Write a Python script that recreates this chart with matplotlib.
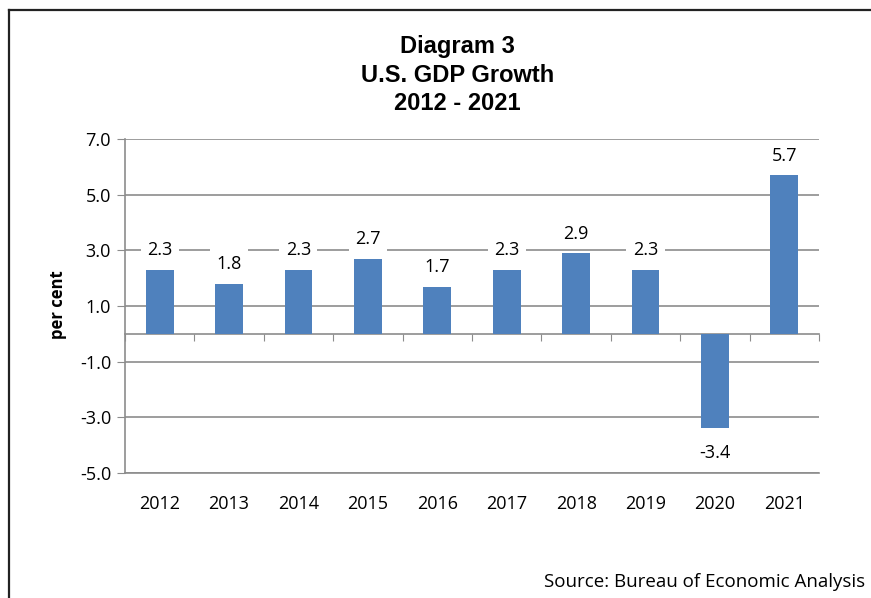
import matplotlib.pyplot as plt
from matplotlib.lines import Line2D

years = ['2012', '2013', '2014', '2015', '2016', '2017', '2018', '2019', '2020', '2021']
growth = [2.3, 1.8, 2.3, 2.7, 1.7, 2.3, 2.9, 2.3, -3.4, 5.7]
yticks = [7.0, 5.0, 3.0, 1.0, -1.0, -3.0, -5.0]

plt.rcParams['font.family'] = ['Open Sans', 'DejaVu Sans']
grid_c = '#8c8c8c'

fig = plt.figure(figsize=(8.71, 5.98), dpi=100)
ax = fig.add_axes([0.1435, 0.209, 0.7968, 0.5586])

x = list(range(len(years)))
ax.bar(x, growth, width=0.4, color='#4F81BD', zorder=2)

# data labels with white background
for xi, v in zip(x, growth):
    off = 14 if v >= 0 else -17.5
    ax.annotate(f'{v:.1f}', (xi, v), xytext=(0, off), textcoords='offset points',
                ha='center', va='center', fontsize=13,
                bbox=dict(boxstyle='square,pad=0.35', fc='white', ec='none'), zorder=4)

ax.set_xlim(-0.5, len(years) - 0.5)
ax.set_ylim(-5, 7)
ax.set_yticks(yticks)
ax.set_yticklabels([f'{t:.1f}' for t in yticks], fontsize=13)
ax.tick_params(axis='y', length=6, color=grid_c, pad=4)
ax.yaxis.grid(True, color=grid_c, linewidth=1.2, zorder=0)
ax.set_axisbelow(True)

ax.set_xticks(x)
ax.set_xticklabels(years, fontsize=13)
ax.tick_params(axis='x', length=0, pad=16)

for s in ['top', 'right']:
    ax.spines[s].set_visible(False)
ax.spines['left'].set_color(grid_c)
ax.spines['bottom'].set_color(grid_c)
ax.spines['left'].set_linewidth(1.2)
ax.spines['bottom'].set_linewidth(1.2)

# zero axis with category boundary ticks
zero_frac = (0 - (-5)) / (7 - (-5))
sec = ax.secondary_xaxis(zero_frac)
sec.set_xticks([i - 0.5 for i in range(len(years) + 1)])
sec.set_xticklabels([])
sec.tick_params(axis='x', length=5, color=grid_c, direction='out')
sec.spines['bottom'].set_color(grid_c)
sec.spines['bottom'].set_linewidth(1.2)

for ty, line in zip([47, 75, 103], ['Diagram 3', 'U.S. GDP Growth', '2012 - 2021']):
    fig.text(0.525, 1 - ty / 598, line, ha='center', va='center',
             fontsize=17, fontweight='bold', family='Liberation Sans')

fig.text(58 / 871, 1 - 305 / 598, 'per cent', rotation=90, ha='center', va='center',
         fontsize=12, fontweight='bold')

fig.text(865 / 871, 1 - 582 / 598, 'Source: Bureau of Economic Analysis',
         ha='right', va='center', fontsize=13.5)

# outer frame (left and top edges visible)
fig.add_artist(Line2D([9 / 871, 1.0], [1 - 10 / 598, 1 - 10 / 598],
                      transform=fig.transFigure, color='#222222', linewidth=1.6))
fig.add_artist(Line2D([9 / 871, 9 / 871], [0.0, 1 - 10 / 598],
                      transform=fig.transFigure, color='#222222', linewidth=1.6))

fig.savefig('out.png', dpi=100)
